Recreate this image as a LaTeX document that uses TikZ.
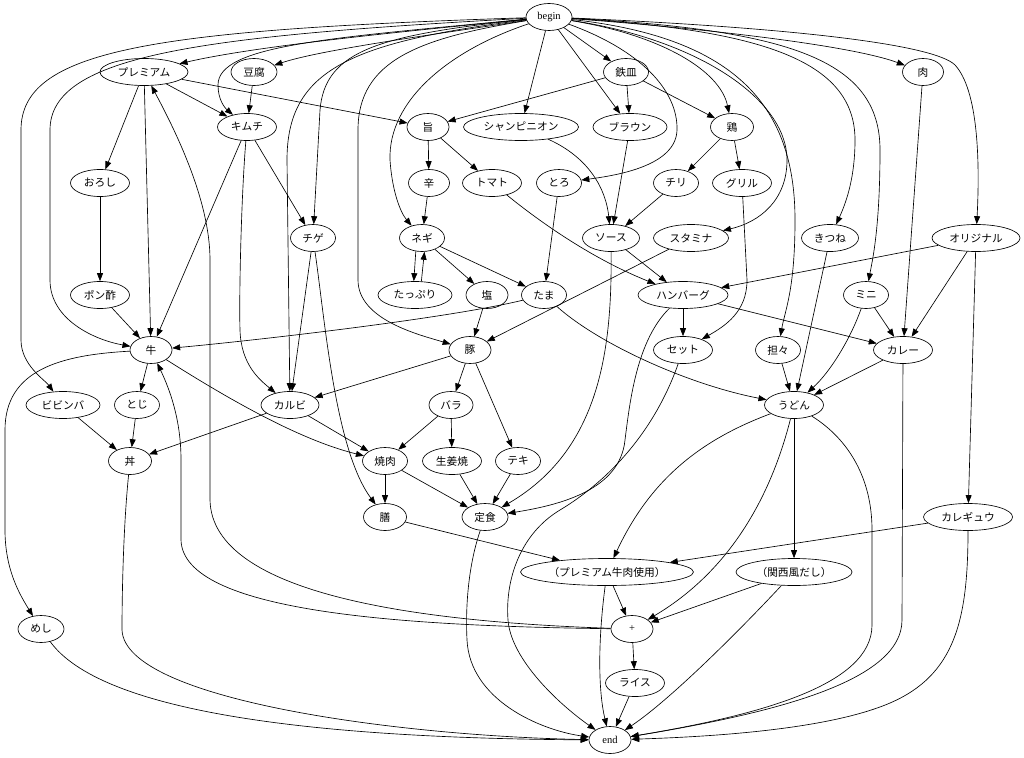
\documentclass[tikz,border=0pt]{standalone}
\usepackage{fontspec}
\newfontfamily\jpfont{Noto Sans CJK JP}
\newfontfamily\tmfont{Liberation Serif}
\usetikzlibrary{shapes.geometric,arrows.meta}
\begin{document}
\begin{tikzpicture}[x=1pt,y=-1pt,
  nd/.style={draw, ellipse, line width=0.65pt, inner sep=0pt, minimum height=27pt, font=\jpfont\fontsize{10.7}{12}\selectfont},
  tm/.style={font=\tmfont\fontsize{10.5}{12}\selectfont},
  w/.style={minimum width=#1pt},
  arr/.style={line width=0.65pt, -{Triangle[length=8pt,width=6pt]}}]
\fill[white] (0,0) rectangle (1024,757);
\useasboundingbox (0,0) rectangle (1024,757);
% nodes
\node[nd,tm,w=46] (bg) at (549,17) {begin};
\node[nd,tm,w=42] (fin) at (610,740) {end};
\node[nd,w=88] (prem) at (144,72) {プレミアム};
\node[nd,w=46] (tofu) at (254,72) {豆腐};
\node[nd,w=45] (teppan) at (626,72) {鉄皿};
\node[nd,w=41] (niku) at (923,72) {肉};
\node[nd,w=59] (kimchi) at (247,127) {キムチ};
\node[nd,w=42] (uma) at (428,127) {旨};
\node[nd,w=115] (champ) at (521,127) {シャンピニオン};
\node[nd,w=74] (brown) at (630,127) {ブラウン};
\node[nd,w=43] (tori) at (732,127) {鶏};
\node[nd,w=59] (oroshi) at (100,183) {おろし};
\node[nd,w=41] (kara) at (429,183) {辛};
\node[nd,w=59] (tomato) at (492,183) {トマト};
\node[nd,w=45] (toro) at (559,183) {とろ};
\node[nd,w=45] (chili) at (676,183) {チリ};
\node[nd,w=59] (grill) at (742,183) {グリル};
\node[nd,w=45] (chige) at (313,238) {チゲ};
\node[nd,w=45] (negi) at (422,238) {ネギ};
\node[nd,w=57] (sauce) at (611,238) {ソース};
\node[nd,w=75] (stamina) at (691,238) {スタミナ};
\node[nd,w=57] (kitsune) at (830,238) {きつね};
\node[nd,w=88] (original) at (976,238) {オリジナル};
\node[nd,w=59] (ponzu) at (100,295) {ポン酢};
\node[nd,w=74] (tappuri) at (415,295) {たっぷり};
\node[nd,w=42] (shio) at (487,295) {塩};
\node[nd,w=45] (tama) at (544,295) {たま};
\node[nd,w=90] (hamburg) at (683,295) {ハンバーグ};
\node[nd,w=45] (mini) at (866,295) {ミニ};
\node[nd,w=42] (gyu) at (151,350) {牛};
\node[nd,w=42] (buta) at (470,350) {豚};
\node[nd,w=59] (setto) at (683,350) {セット};
\node[nd,w=45] (tantan) at (778,350) {担々};
\node[nd,w=59] (curry) at (903,350) {カレー};
\node[nd,w=74] (bibimba) at (63,405) {ビビンバ};
\node[nd,w=45] (toji) at (137,405) {とじ};
\node[nd,w=58] (karubi) at (290,405) {カルビ};
\node[nd,w=44] (bara) at (451,405) {バラ};
\node[nd,w=59] (udon) at (794,405) {うどん};
\node[nd,w=43] (don) at (130,461) {丼};
\node[nd,w=45] (yakiniku) at (385,461) {焼肉};
\node[nd,w=59] (shoga) at (452,461) {生姜焼};
\node[nd,w=45] (teki) at (518,461) {テキ};
\node[nd,w=43] (zen) at (385,517) {膳};
\node[nd,w=46] (teishoku) at (485,517) {定食};
\node[nd,w=89] (karegyu) at (968,517) {カレギュウ};
\node[nd,w=173] (premgyu) at (607,572) {（プレミアム牛肉使用）};
\node[nd,w=116] (kansai) at (794,572) {（関西風だし）};
\node[nd,w=46] (meshi) at (41,629) {めし};
\node[nd,tm,w=42] (plus) at (632,629) {+};
\node[nd,w=59] (rice) at (635,683) {ライス};
% edges from begin
\draw[arr] (bg) .. controls (150,30) and (21,50) .. (21,130) -- (21,340) .. controls (21,365) and (45,380) .. (bibimba);
\draw[arr] (bg) .. controls (200,36) and (50,55) .. (50,130) -- (50,280) .. controls (50,320) and (95,340) .. (gyu);
\draw[arr] (bg) .. controls (420,30) and (260,45) .. (prem);
\draw[arr] (bg) .. controls (430,35) and (320,50) .. (tofu);
\draw[arr] (bg) .. controls (330,38) and (218,45) .. (218,85) .. controls (218,100) and (225,108) .. (kimchi);
\draw[arr] (bg) .. controls (350,42) and (287,70) .. (287,160) -- (karubi);
\draw[arr] (bg) .. controls (380,35) and (325,50) .. (320,110) -- (chige);
\draw[arr] (bg) .. controls (420,38) and (358,60) .. (358,130) -- (358,280) .. controls (358,320) and (420,335) .. (buta);
\draw[arr] (bg) .. controls (450,50) and (388,100) .. (390,160) .. controls (392,190) and (400,212) .. (negi);
\draw[arr] (bg) -- (champ);
\draw[arr] (bg) -- (brown);
\draw[arr] (bg) -- (teppan);
\draw[arr] (bg) .. controls (640,50) and (678,90) .. (677,130) .. controls (676,165) and (620,175) .. (toro);
\draw[arr] (bg) .. controls (660,35) and (720,70) .. (tori);
\draw[arr] (bg) .. controls (700,40) and (787,100) .. (787,160) .. controls (787,200) and (760,222) .. (stamina);
\draw[arr] (bg) .. controls (740,38) and (795,110) .. (795,220) .. controls (795,290) and (785,310) .. (tantan);
\draw[arr] (bg) .. controls (760,30) and (855,60) .. (855,140) .. controls (855,180) and (845,205) .. (kitsune);
\draw[arr] (bg) .. controls (790,30) and (880,60) .. (880,150) .. controls (880,230) and (872,262) .. (mini);
\draw[arr] (bg) .. controls (700,28) and (850,45) .. (niku);
\draw[arr] (bg) .. controls (800,28) and (935,45) .. (955,65) .. controls (978,90) and (980,160) .. (original);
% other edges
\draw[arr] (prem) -- (oroshi);
\draw[arr] (prem) -- (gyu);
\draw[arr] (prem) -- (kimchi);
\draw[arr] (prem) -- (uma);
\draw[arr] (plus) .. controls (420,622) and (212,595) .. (210,500) -- (210,260) .. controls (210,200) and (175,130) .. (prem);
\draw[arr] (plus) .. controls (400,626) and (183,612) .. (181,540) -- (181,460) .. controls (181,420) and (170,390) .. (gyu);
\draw[arr] (tofu) -- (kimchi);
\draw[arr] (kimchi) -- (chige);
\draw[arr] (kimchi) -- (gyu);
\draw[arr] (kimchi) .. controls (241,200) and (239,300) .. (240,330) .. controls (241,365) and (260,380) .. (karubi);
\draw[arr] (oroshi) -- (ponzu);
\draw[arr] (ponzu) -- (gyu);
\draw[arr] (uma) -- (kara);
\draw[arr] (uma) -- (tomato);
\draw[arr] (kara) -- (negi);
\draw[arr] (tomato) .. controls (550,230) and (600,262) .. (hamburg);
\draw[arr] (champ) .. controls (590,158) and (606,190) .. (sauce);
\draw[arr] (brown) -- (sauce);
\draw[arr] (chili) -- (sauce);
\draw[arr] (teppan) -- (uma);
\draw[arr] (teppan) -- (brown);
\draw[arr] (teppan) -- (tori);
\draw[arr] (tori) -- (chili);
\draw[arr] (tori) -- (grill);
\draw[arr] (grill) -- (747,280) .. controls (747,312) and (725,326) .. (setto);
\draw[arr] (toro) -- (tama);
\draw[arr] (sauce) -- (hamburg);
\draw[arr] (sauce) .. controls (612,350) and (600,450) .. (teishoku);
\draw[arr] (stamina) -- (buta);
\draw[arr] (kitsune) -- (udon);
\draw[arr] (original) -- (hamburg);
\draw[arr] (original) -- (curry);
\draw[arr] (original) -- (karegyu);
\draw[arr] (niku) -- (curry);
\draw[arr] (negi.-115) -- (tappuri.95);
\draw[arr] (tappuri.65) -- (negi.-80);
\draw[arr] (negi) -- (shio);
\draw[arr] (negi) -- (tama);
\draw[arr] (shio) -- (buta);
\draw[arr] (tama) .. controls (450,318) and (260,340) .. (gyu);
\draw[arr] (tama) .. controls (600,345) and (690,385) .. (udon);
\draw[arr] (hamburg) -- (setto);
\draw[arr] (hamburg) -- (curry);
\draw[arr] (hamburg) .. controls (637,340) and (630,400) .. (625,440) .. controls (620,490) and (560,505) .. (teishoku);
\draw[arr] (mini) -- (curry);
\draw[arr] (mini) .. controls (850,340) and (830,372) .. (udon);
\draw[arr] (tantan) -- (udon);
\draw[arr] (curry) -- (udon);
\draw[arr] (curry) -- (902,620) .. controls (902,680) and (780,712) .. (fin);
\draw[arr] (udon) .. controls (850,440) and (872,480) .. (872,530) -- (872,625) .. controls (872,685) and (760,715) .. (fin);
\draw[arr] (udon) .. controls (700,440) and (650,480) .. (premgyu);
\draw[arr] (udon) -- (kansai);
\draw[arr] (udon) .. controls (775,480) and (740,565) .. (plus);
\draw[arr] (gyu) -- (toji);
\draw[arr] (gyu) .. controls (230,400) and (300,440) .. (yakiniku);
\draw[arr] (gyu) .. controls (60,355) and (5,370) .. (5,430) -- (5,530) .. controls (5,570) and (20,595) .. (meshi);
\draw[arr] (buta) -- (karubi);
\draw[arr] (buta) -- (bara);
\draw[arr] (buta) -- (teki);
\draw[arr] (setto) .. controls (655,430) and (610,480) .. (560,510) .. controls (520,534) and (505,580) .. (508,620) .. controls (511,660) and (560,705) .. (fin);
\draw[arr] (bibimba) -- (don);
\draw[arr] (toji) -- (don);
\draw[arr] (karubi) -- (don);
\draw[arr] (karubi) -- (yakiniku);
\draw[arr] (bara) -- (yakiniku);
\draw[arr] (bara) -- (shoga);
\draw[arr] (chige) .. controls (325,320) and (335,450) .. (zen);
\draw[arr] (chige) -- (karubi);
\draw[arr] (yakiniku) -- (zen);
\draw[arr] (yakiniku) -- (teishoku);
\draw[arr] (shoga) -- (teishoku);
\draw[arr] (teki) -- (teishoku);
\draw[arr] (don) .. controls (123,530) and (122,600) .. (122,630) .. controls (125,700) and (400,736) .. (fin);
\draw[arr] (zen) -- (premgyu);
\draw[arr] (teishoku) .. controls (470,560) and (465,600) .. (467,640) .. controls (470,700) and (540,730) .. (fin);
\draw[arr] (karegyu) -- (premgyu);
\draw[arr] (karegyu) .. controls (968,620) and (955,675) .. (890,703) .. controls (825,731) and (700,737) .. (fin);
\draw[arr] (premgyu) -- (plus);
\draw[arr] (premgyu) .. controls (598,640) and (598,690) .. (fin);
\draw[arr] (kansai) -- (plus);
\draw[arr] (kansai) .. controls (740,630) and (670,700) .. (fin);
\draw[arr] (plus) -- (rice);
\draw[arr] (rice) -- (fin);
\draw[arr] (meshi) .. controls (100,710) and (300,738) .. (fin);
\end{tikzpicture}
\end{document}
